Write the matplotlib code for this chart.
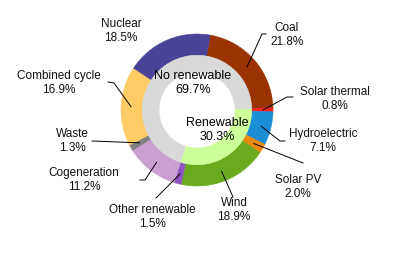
import numpy as np
import matplotlib.pyplot as plt

plt.rcParams['font.family'] = ['Liberation Sans', 'DejaVu Sans']

# outer ring: clockwise starting from coal
names = ["Coal", "Solar thermal", "Hydroelectric", "Solar PV", "Wind",
         "Other renewable", "Cogeneration", "Waste", "Combined cycle", "Nuclear"]
shares = [21.8, 0.8, 7.1, 2.0, 18.9, 1.5, 11.2, 1.3, 16.9, 18.5]
colors = ["#993300", "#ff1f1f", "#1a8fd6", "#e8890c", "#6aaa1e",
          "#8e52c2", "#c9a0cf", "#7f7f7f", "#ffcc66", "#4a4499"]

# inner ring
groups = ["Renewable", "No renewable"]
group_shares = [30.3, 69.7]
group_colors = ["#ccff99", "#d9d9d9"]

W, H = 410, 268
cx, cy, R = 197, H - 110, 76
start = 80

fig = plt.figure(figsize=(W / 100, H / 100), dpi=100)
ax = fig.add_axes([0, 0, 1, 1])

wedges, _ = ax.pie(shares, colors=colors, startangle=start, counterclock=False,
                   center=(cx, cy), radius=R, wedgeprops=dict(width=0.28 * R, linewidth=0.4))
for w in wedges:
    w.set_edgecolor(w.get_facecolor())

# renewable part starts where coal ends
w2, _ = ax.pie(group_shares, colors=group_colors, startangle=start - shares[0] * 3.6,
               counterclock=False, center=(cx, cy), radius=0.72 * R,
               wedgeprops=dict(width=0.22 * R, linewidth=0.4))
for w in w2:
    w.set_edgecolor(w.get_facecolor())

# label positions (pixels from top-left) and leader line points near the label
lbl_xy = [(287, 35), (335, 99), (323, 141), (298, 187), (234, 210),
          (152, 217), (84, 180), (72, 141), (59, 83), (121, 31)]
lead = [[(266, 34), (262, 34)], [(293, 97), (287, 97)], [(285, 141), (280, 141)],
        [(303, 163)], [(233, 197)], [(156, 198)], [(140, 180), (145, 180)],
        [(92, 141)], [(108, 82), (114, 83)], []]

cum = np.cumsum(shares) - np.array(shares) / 2
for i, name in enumerate(names):
    x, y = lbl_xy[i]
    ax.text(x, H - y, "%s\n%.1f%%" % (name, shares[i]), ha="center", va="center",
            fontsize=8.5, linespacing=1.15, color="#111111")
    if lead[i]:
        a = np.deg2rad(start - cum[i] * 3.6)
        px = [p[0] for p in lead[i]] + [cx + 0.87 * R * np.cos(a)]
        py = [H - p[1] for p in lead[i]] + [cy + 0.87 * R * np.sin(a)]
        ax.plot(px, py, color="black", lw=0.7)

ax.text(193, H - 83, "No renewable\n69.7%", ha="center", va="center", fontsize=9, linespacing=1.15)
ax.text(217, H - 130, "Renewable\n30.3%", ha="center", va="center", fontsize=9, linespacing=1.15)

ax.set_xlim(0, W)
ax.set_ylim(0, H)
ax.set_aspect("equal")
ax.axis("off")
fig.savefig("out.png", dpi=100)
